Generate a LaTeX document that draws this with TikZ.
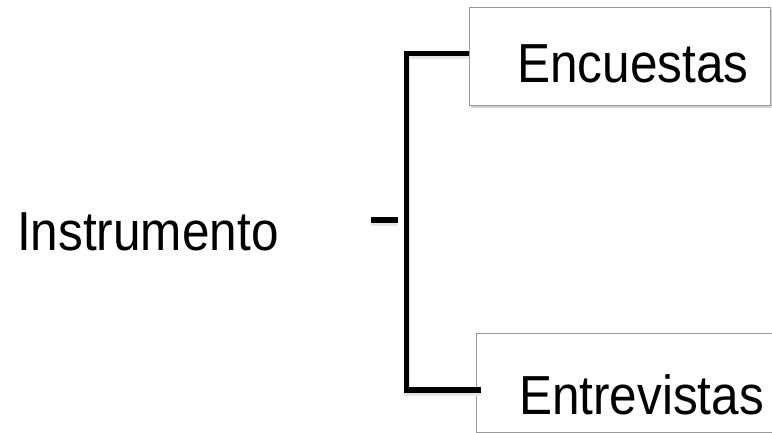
\documentclass[tikz,border=0pt]{standalone}
\usepackage{fontspec}
\newfontfamily\hfont[FakeStretch=0.9]{Liberation Sans}
\usetikzlibrary{shadows,calc}
\begin{document}
\begin{tikzpicture}[x=1pt,y=-1pt,
  lbl/.style={font=\hfont\fontsize{55}{60}\selectfont, inner sep=0pt, anchor=base west},
  box/.style={draw=black!40, line width=1pt, fill=white, drop shadow={shadow xshift=1.5pt, shadow yshift=-2pt, opacity=0.35}},
  brk/.style={line width=5.5pt},
  shd/.style={line width=6pt, black!10, transform canvas={yshift=-3pt}}]
\useasboundingbox (0,0) rectangle (772,433);
\path[box] (469,8) rectangle (770,106);
\path[box] (476,333) rectangle (790,432);
\node[lbl] (ins) at (17,251) {Instrumento};
\node[lbl] (enc) at (517,83) {Encuestas};
\node[lbl] (ent) at (519,414) {Entrevistas};
\coordinate (top) at (406.5,53.5);
\coordinate (bot) at (406.5,390);
\coordinate (encin) at (469,53.5);
\coordinate (entin) at (481,390);
\coordinate (d1) at (371,220);
\coordinate (d2) at (398,220);
\draw[shd] (encin) -- (top) -- (bot) -- (entin);
\draw[shd] (d1) -- (d2);
\draw[brk] (encin) -- (top) -- (bot) -- (entin);
\draw[brk] (d1) -- (d2);
\end{tikzpicture}
\end{document}
